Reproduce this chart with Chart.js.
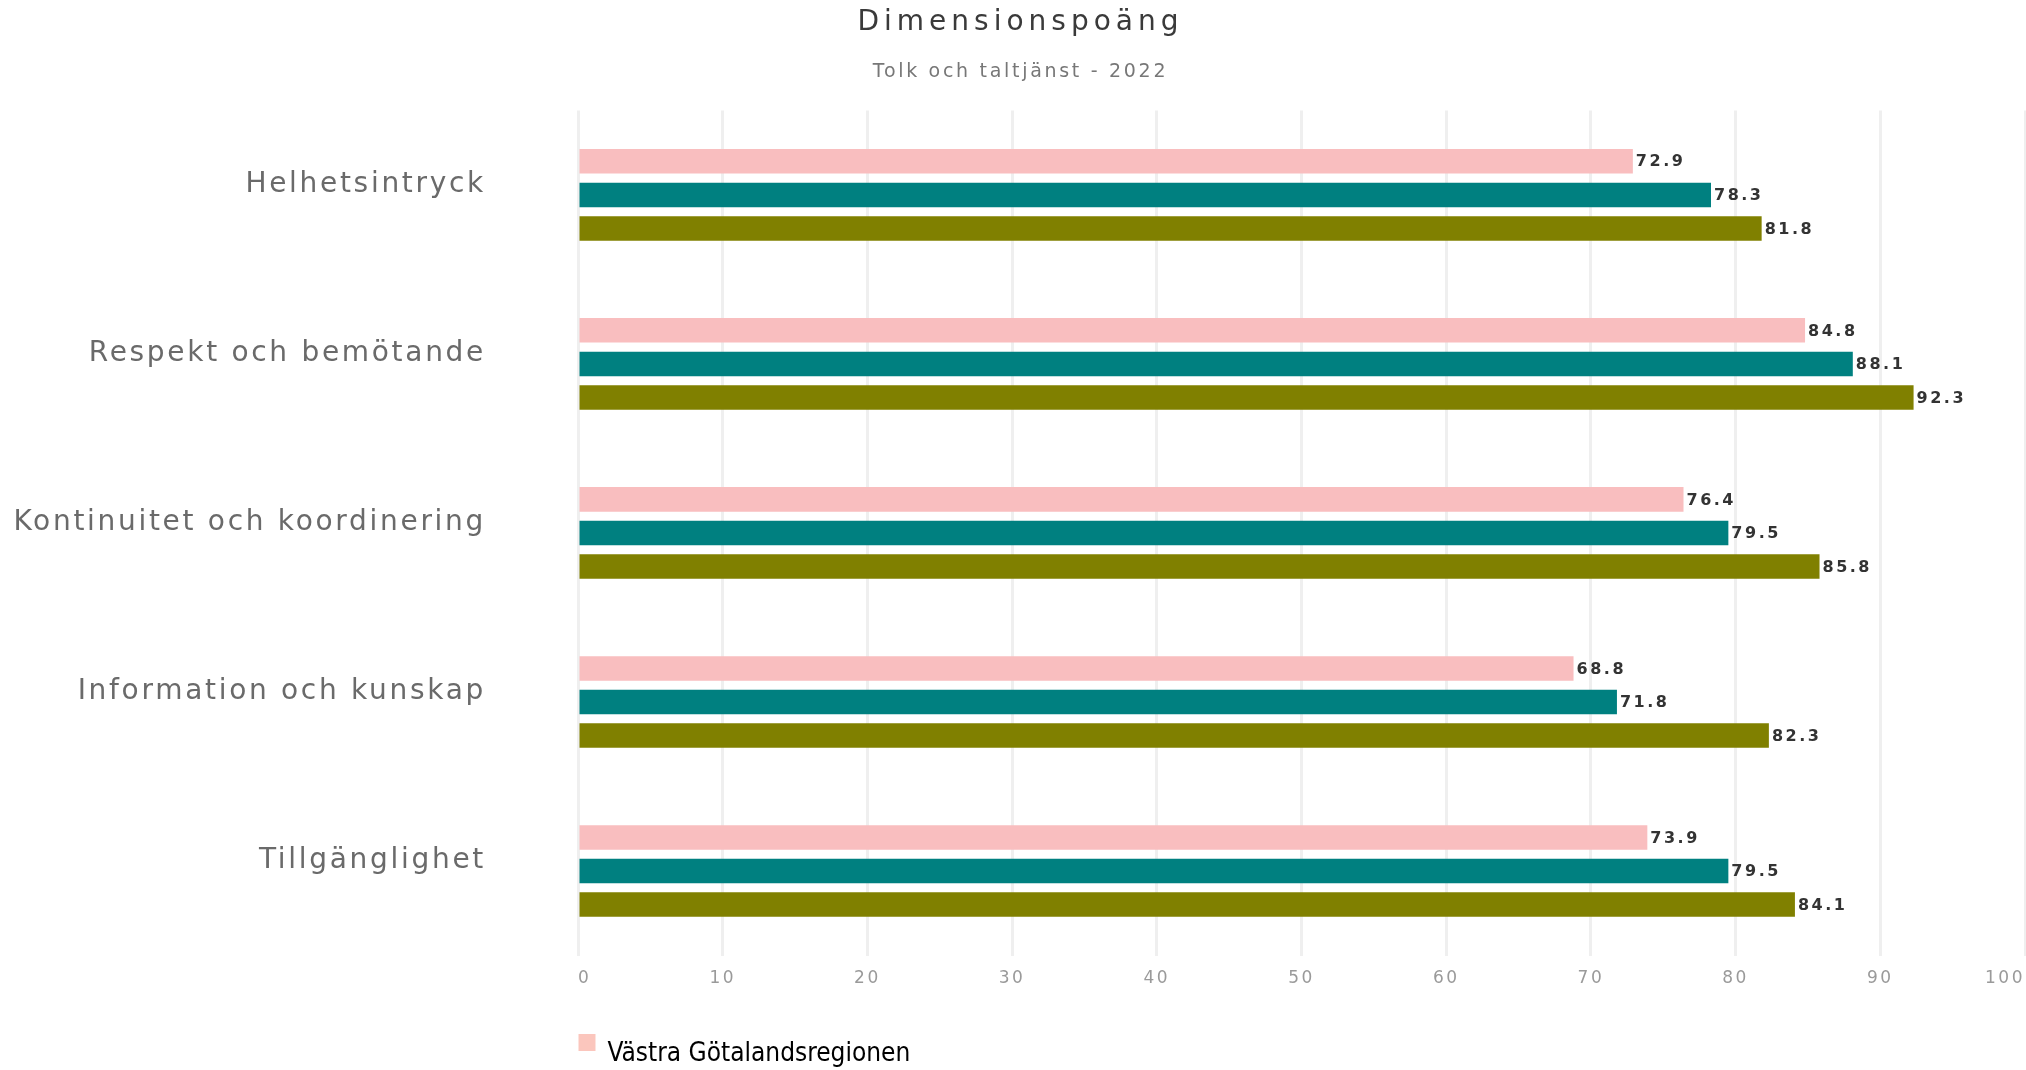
<!DOCTYPE html>
<html>
<head>
<meta charset="utf-8">
<title>Dimensionspoäng</title>
<script src="https://cdn.jsdelivr.net/npm/chart.js@4.4.1/dist/chart.umd.min.js"></script>
<style>
  html, body { margin: 0; padding: 0; background: #fff; }
  #wrap { width: 2026px; height: 1070px; position: relative; }
</style>
</head>
<body>
<div id="wrap"><canvas id="graph" role="img" aria-label="Dimensionspoäng, Tolk och taltjänst 2022"></canvas></div>
<script>
// dimensions (categories)
const dimensions = [
  'Helhetsintryck',
  'Respekt och bemötande',
  'Kontinuitet och koordinering',
  'Information och kunskap',
  'Tillgänglighet'
];

// series values
const vgrValues   = [72.9, 84.8, 76.4, 68.8, 73.9];
const tealValues  = [78.3, 88.1, 79.5, 71.8, 79.5];
const oliveValues = [81.8, 92.3, 85.8, 82.3, 84.1];

const seriesNames = ['Västra Götalandsregionen', '', ''];
const xTicks = [0, 10, 20, 30, 40, 50, 60, 70, 80, 90, 100];

const PINK = '#f9bebf';
const TEAL = '#008080';
const OLIVE = '#808000';

// legend square sits up and to the left of where Chart.js centres it
const legendMark = document.createElement('canvas');
legendMark.width = 37;
legendMark.height = 40;
const lm = legendMark.getContext('2d');
lm.fillStyle = '#fbc6bd';
lm.fillRect(7, 0, 17, 17);

// canvas text has no letter-spacing option in Chart.js, so wrap the draw calls
const spacing = {
  id: 'spacing',
  afterLayout(chart) {
    const wrap = (obj, fn, sp) => {
      if (!obj || obj['_sp_' + fn]) return;
      const orig = obj[fn];
      obj['_sp_' + fn] = true;
      obj[fn] = function () {
        const ctx = chart.ctx;
        ctx.save();
        ctx.letterSpacing = sp;
        orig.apply(this, arguments);
        ctx.restore();
      };
    };
    wrap(chart.titleBlock, 'draw', '5px');
    chart.boxes.forEach(b => {
      if (b !== chart.titleBlock && b !== chart.legend && !b.axis) wrap(b, 'draw', '2.7px');
    });
    wrap(chart.scales.x, 'drawLabels', '2.5px');
    wrap(chart.scales.y, 'drawLabels', '2.7px');
  }
};

// value at the end of each bar
const barValues = {
  id: 'barValues',
  afterDatasetsDraw(chart) {
    const ctx = chart.ctx;
    ctx.save();
    ctx.letterSpacing = '2.5px';
    ctx.font = 'bold 16px "DejaVu Sans"';
    ctx.fillStyle = '#333';
    ctx.textAlign = 'left';
    ctx.textBaseline = 'middle';
    chart.data.datasets.forEach((ds, i) => {
      chart.getDatasetMeta(i).data.forEach((bar, j) => {
        ctx.fillText(ds.data[j].toFixed(1), bar.x + 3, bar.y + 1);
      });
    });
    ctx.restore();
  }
};

const ctx = document.getElementById('graph').getContext('2d');
new Chart(ctx, {
  type: 'bar',
  data: {
    labels: dimensions,
    datasets: [
      { label: seriesNames[0], data: vgrValues, backgroundColor: PINK },
      { label: seriesNames[1], data: tealValues, backgroundColor: TEAL },
      { label: seriesNames[2], data: oliveValues, backgroundColor: OLIVE }
    ]
  },
  options: {
    indexAxis: 'y',
    responsive: true,
    maintainAspectRatio: false,
    animation: false,
    categoryPercentage: 0.596,
    barPercentage: 0.73,
    layout: { padding: { top: 0, left: 16, right: 1, bottom: 0 } },
    scales: {
      x: {
        min: 0,
        max: 100,
        afterBuildTicks(scale) { scale.ticks = xTicks.map(v => ({ value: v })); },
        afterFit(scale) { scale.height = 78; scale.paddingRight = 0; },
        grid: { color: '#efefef', lineWidth: 3, drawTicks: false },
        border: { display: false },
        ticks: {
          align: 'inner',
          padding: 13,
          color: '#9a9a9a',
          font: { family: '"DejaVu Sans"', size: 17 }
        }
      },
      y: {
        afterFit(scale) { scale.width = 562; },
        grid: { display: false, drawTicks: false },
        border: { display: false },
        ticks: {
          padding: 92,
          labelOffset: -10,
          color: '#6a6a6a',
          font: { family: '"DejaVu Sans"', size: 28 }
        }
      }
    },
    plugins: {
      title: {
        display: true,
        text: 'Dimensionspoäng',
        color: '#3a3a3a',
        font: { family: '"DejaVu Sans"', size: 28, weight: 'normal' },
        padding: { top: 6, bottom: 21 }
      },
      subtitle: {
        display: true,
        text: 'Tolk och taltjänst - 2022',
        color: '#777',
        font: { family: '"DejaVu Sans"', size: 19 },
        padding: { top: 0, bottom: 27 }
      },
      legend: {
        display: true,
        position: 'bottom',
        align: 'start',
        fullSize: false,
        maxHeight: 36.5,
        labels: {
          usePointStyle: true,
          boxWidth: 9,
          boxHeight: 17,
          padding: 7.5,
          color: '#000',
          font: { family: '"Liberation Sans Narrow", "DejaVu Sans Condensed", "Liberation Sans", sans-serif', size: 26 },
          generateLabels: () => [{
            text: seriesNames[0],
            pointStyle: legendMark,
            fillStyle: PINK,
            strokeStyle: PINK,
            lineWidth: 0,
            hidden: false,
            datasetIndex: 0
          }]
        }
      },
      tooltip: { enabled: false }
    }
  },
  plugins: [spacing, barValues]
});
</script>
</body>
</html>
